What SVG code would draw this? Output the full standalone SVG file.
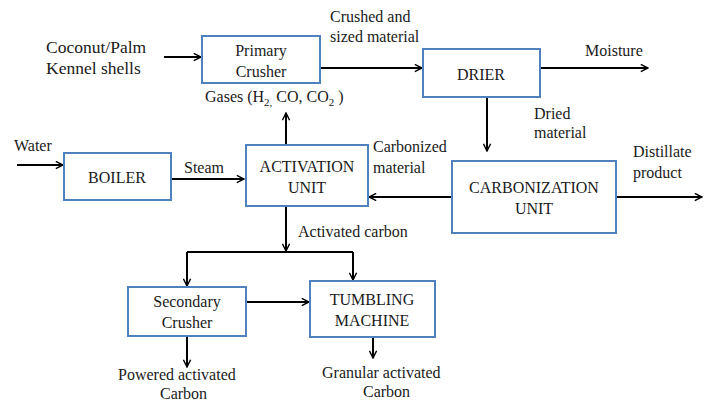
<svg xmlns="http://www.w3.org/2000/svg" width="713" height="403" viewBox="0 0 713 403">
<defs>
<marker id="ah" viewBox="0 0 10 10" refX="9" refY="5" markerWidth="9" markerHeight="9" markerUnits="userSpaceOnUse" orient="auto">
<path d="M1,1 L9,5 L1,9" fill="none" stroke="#000" stroke-width="1.6"/>
</marker>
<style>
.box{fill:#fff;stroke:#4F81BD;stroke-width:2}
.t{font-family:"Liberation Serif","Times New Roman",serif;font-size:16px;fill:#1a1a1a}
.c{text-anchor:middle}
.ln{fill:none;stroke:#000;stroke-width:2}
.ar{fill:none;stroke:#000;stroke-width:2;marker-end:url(#ah)}
</style>
</defs>
<rect width="713" height="403" fill="#fff"/>
<g id="connectors">
<line class="ar" x1="164" y1="57" x2="201" y2="57"/>
<line class="ar" x1="320" y1="68" x2="422" y2="68"/>
<line class="ar" x1="540" y1="68" x2="648" y2="68"/>
<line class="ar" x1="487" y1="97" x2="487" y2="151"/>
<line class="ar" x1="616" y1="197" x2="702" y2="197"/>
<line class="ar" x1="452" y1="197" x2="369" y2="197"/>
<line class="ar" x1="286" y1="145" x2="286" y2="113"/>
<line class="ar" x1="17" y1="165" x2="63" y2="165"/>
<line class="ar" x1="171" y1="179" x2="244" y2="179"/>
<line class="ar" x1="286" y1="206" x2="286" y2="251"/>
<polyline class="ln" points="187,252 353,252"/>
<line class="ar" x1="187" y1="252" x2="187" y2="286"/>
<line class="ar" x1="353" y1="252" x2="353" y2="280"/>
<line class="ar" x1="246" y1="302" x2="309" y2="302"/>
<line class="ar" x1="187" y1="336" x2="187" y2="367"/>
<line class="ar" x1="373" y1="337" x2="373" y2="358"/>
</g>
<g id="primary-crusher">
<rect class="box" x="202" y="36" width="118" height="47"/>
<text class="t c" x="261" y="56">Primary</text>
<text class="t c" x="261" y="77">Crusher</text>
</g>
<g id="drier">
<rect class="box" x="423" y="49" width="117" height="48"/>
<text class="t c" x="481" y="80">DRIER</text>
</g>
<g id="carbonization-unit">
<rect class="box" x="452" y="161" width="164" height="72"/>
<text class="t c" x="534" y="193">CARBONIZATION</text>
<text class="t c" x="534" y="214">UNIT</text>
</g>
<g id="activation-unit">
<rect class="box" x="246" y="145" width="122" height="61"/>
<text class="t c" x="307" y="172">ACTIVATION</text>
<text class="t c" x="307" y="193">UNIT</text>
</g>
<g id="boiler">
<rect class="box" x="64" y="153" width="107" height="47"/>
<text class="t c" x="117" y="183">BOILER</text>
</g>
<g id="secondary-crusher">
<rect class="box" x="128" y="287" width="118" height="49"/>
<text class="t c" x="187" y="307">Secondary</text>
<text class="t c" x="187" y="328">Crusher</text>
</g>
<g id="tumbling-machine">
<rect class="box" x="310" y="281" width="125" height="56"/>
<text class="t c" x="372" y="305">TUMBLING</text>
<text class="t c" x="372" y="326">MACHINE</text>
</g>
<g id="labels">
<text class="t" x="46" y="53" style="font-size:17.5px">Coconut/Palm</text>
<text class="t" x="46" y="74" style="font-size:17.5px">Kennel shells</text>
<text class="t" x="330" y="22">Crushed and</text>
<text class="t" x="330" y="42">sized material</text>
<text class="t" x="585" y="56">Moisture</text>
<text class="t" x="205" y="102">Gases (H<tspan font-size="11" dy="4">2,</tspan><tspan dy="-4"> CO, CO</tspan><tspan font-size="11" dy="4">2</tspan><tspan dy="-4"> )</tspan></text>
<text class="t" x="534" y="119">Dried</text>
<text class="t" x="534" y="138">material</text>
<text class="t" x="373" y="152">Carbonized</text>
<text class="t" x="373" y="173">material</text>
<text class="t" x="633" y="157">Distillate</text>
<text class="t" x="633" y="178">product</text>
<text class="t" x="14" y="151">Water</text>
<text class="t" x="184" y="173">Steam</text>
<text class="t" x="298" y="237">Activated carbon</text>
<text class="t" x="118" y="380">Powered activated</text>
<text class="t" x="160" y="399">Carbon</text>
<text class="t" x="322" y="378">Granular activated</text>
<text class="t" x="363" y="397">Carbon</text>
</g>
</svg>
